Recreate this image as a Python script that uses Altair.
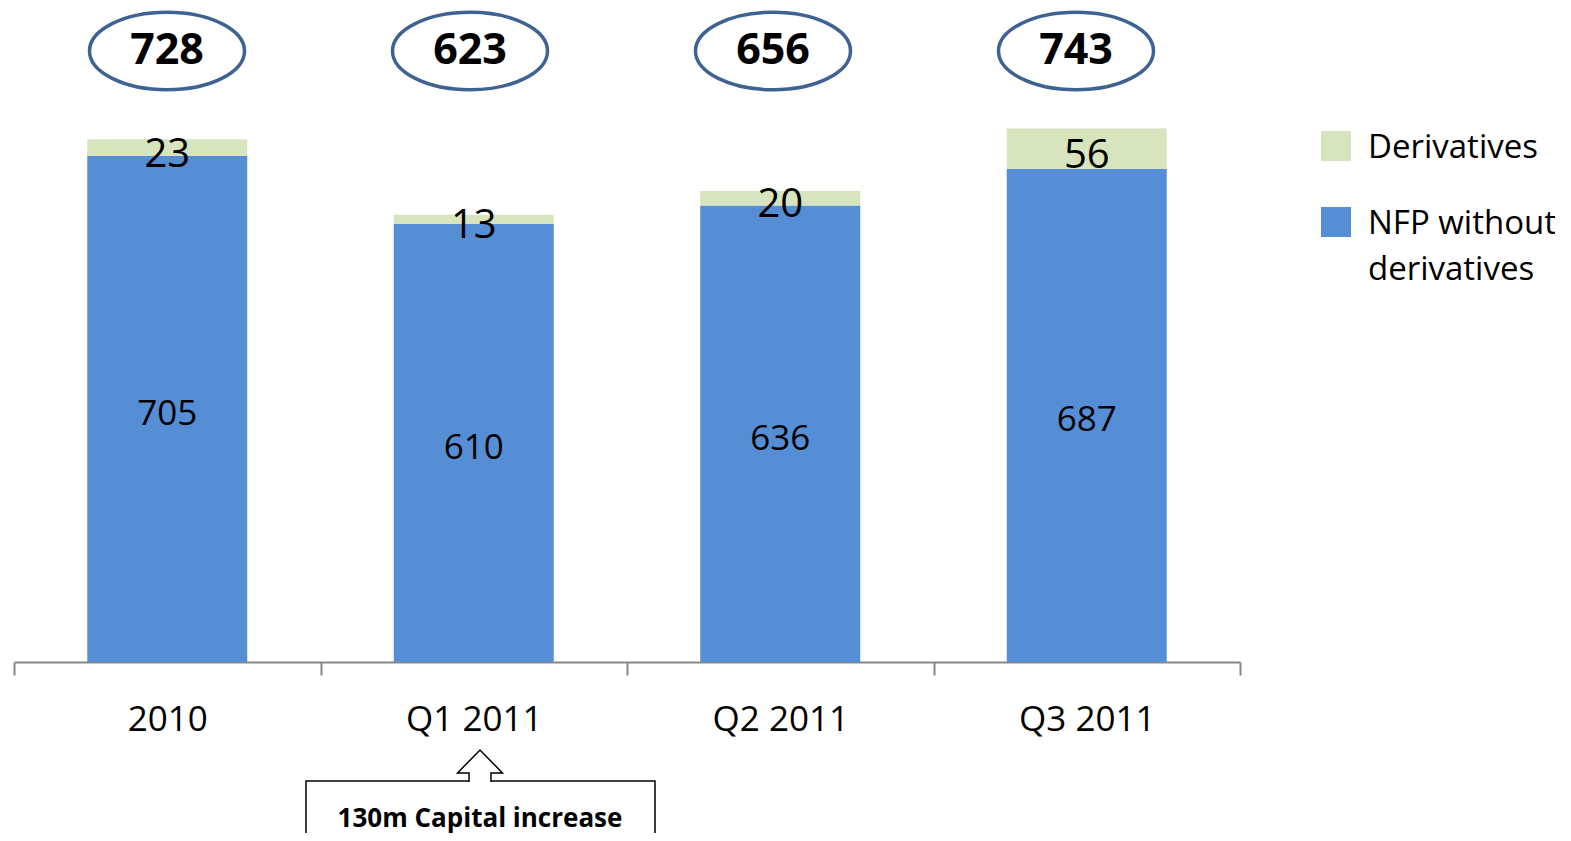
import altair as alt
import pandas as pd

categories = ["2010", "Q1 2011", "Q2 2011", "Q3 2011"]
nfp_without_derivatives = [705, 610, 636, 687]
derivatives = [23, 13, 20, 56]
series_names = ["Derivatives", "NFP without derivatives"]
series_colors = ["#D7E4BD", "#558ED5"]
annotation_text = ["130m Capital increase"]

rows = []
for c, n, d in zip(categories, nfp_without_derivatives, derivatives):
    rows.append({"category": c, "series": "NFP without derivatives", "value": n, "ord": 0})
    rows.append({"category": c, "series": "Derivatives", "value": d, "ord": 1})
df = pd.DataFrame(rows)

FONT = "Open Sans"
W, H = 1226, 654
YMAX = 911

ELLIPSE = ("M -1 0 C -1 -0.2761 -0.5523 -0.5 0 -0.5 C 0.5523 -0.5 1 -0.2761 1 0 "
           "C 1 0.2761 0.5523 0.5 0 0.5 C -0.5523 0.5 -1 0.2761 -1 0 Z")
ARROW = ("M -0.478 0.72 L -0.478 0.326 L -0.978 0.326 L 0 -0.674 "
         "L 0.978 0.326 L 0.478 0.326 L 0.478 0.72")

x_enc = alt.X(
    "category:N", sort=categories,
    scale=alt.Scale(paddingInner=0, paddingOuter=0),
    axis=alt.Axis(title=None, labelFont=FONT, labelFontSize=35, labelColor="black",
                  labelAngle=0, labelPadding=27, tickBand="extent", tickSize=13,
                  tickColor="#878787", tickWidth=2, domainColor="#878787",
                  domainWidth=2, grid=False),
)
# ellipse callouts sit on their own, slightly narrower, point scale
x_call = alt.X("category:N", sort=categories,
               scale=alt.Scale(domain=categories, range=[153, 1062], padding=0), axis=None)
yscale = alt.Scale(domain=[0, YMAX], nice=False, zero=True)
color = alt.Color("series:N", scale=alt.Scale(domain=series_names, range=series_colors), legend=None)

base = alt.Chart(df).transform_stack(
    stack="value", groupby=["category"], as_=["v0", "v1"],
    sort=[alt.SortField("ord", order="ascending")],
).transform_calculate(mid="(datum.v0 + datum.v1) / 2")

bars = base.mark_bar(width=160).encode(
    x=x_enc, y=alt.Y("v0:Q", scale=yscale, axis=None), y2="v1:Q", color=color
)
nfp_labels = base.transform_filter("datum.series == 'NFP without derivatives'").mark_text(
    font=FONT, fontSize=35, color="black", baseline="middle", dy=5
).encode(x=x_enc, y=alt.Y("mid:Q", scale=yscale, axis=None), text="value:Q")
der_labels = base.transform_filter("datum.series == 'Derivatives'").mark_text(
    font=FONT, fontSize=40, color="black", baseline="middle", dy=7
).encode(x=x_enc, y=alt.Y("mid:Q", scale=yscale, axis=None), text="value:Q")

totals = alt.Chart(df).transform_aggregate(total="sum(value)", groupby=["category"])
ellipses = totals.mark_point(
    shape=ELLIPSE, size=24025, filled=False, stroke="#3E6392", strokeWidth=3.5, opacity=1
).encode(x=x_call, y=alt.value(43))
total_text = totals.mark_text(
    font=FONT, fontSize=43, fontWeight="bold", color="black", baseline="middle"
).encode(x=x_call, y=alt.value(43), text="total:Q")
callouts = alt.layer(ellipses, total_text)

leg = alt.Chart(pd.DataFrame({"series": series_names})).transform_calculate(
    label="datum.series == 'NFP without derivatives' ? ['NFP without', 'derivatives'] : datum.series"
)
leg_y = alt.Y("series:N", scale=alt.Scale(domain=series_names, range=[138, 214], padding=0), axis=None)
leg_sq = leg.mark_square(size=900, opacity=1, filled=True).encode(
    x=alt.value(1322), y=leg_y, color=color
)
leg_txt = leg.mark_text(
    font=FONT, fontSize=33, align="left", baseline="middle", lineHeight=46, dy=2, color="black"
).encode(x=alt.value(1354), y=leg_y, text=alt.Text("label:N"))

ann = alt.Chart(pd.DataFrame({"t": annotation_text}))
box = ann.mark_rect(fill="white", stroke="black", strokeWidth=1.5).encode(
    x=alt.value(292), x2=alt.value(641), y=alt.value(773), y2=alt.value(850)
)
arrow = ann.mark_point(
    shape=ARROW, size=2116, filled=True, fill="white", stroke="black", strokeWidth=1.5, opacity=1
).encode(x=alt.value(466), y=alt.value(757.5))
box_text = ann.mark_text(font=FONT, fontSize=26, fontWeight="bold", color="black", baseline="middle").encode(
    x=alt.value(466), y=alt.value(811), text="t:N"
)

main = alt.layer(bars, nfp_labels, der_labels)
chart = alt.layer(
    main, callouts, leg_sq, leg_txt, box, arrow, box_text
).resolve_scale(y="independent", x="independent").properties(
    width=W, height=H,
    autosize=alt.AutoSizeParams(type="none"),
    padding={"left": 6, "top": 0, "right": 315, "bottom": 171},
).configure_view(stroke=None)

chart.save("out.html", embed_options={"renderer": "svg", "actions": False})
